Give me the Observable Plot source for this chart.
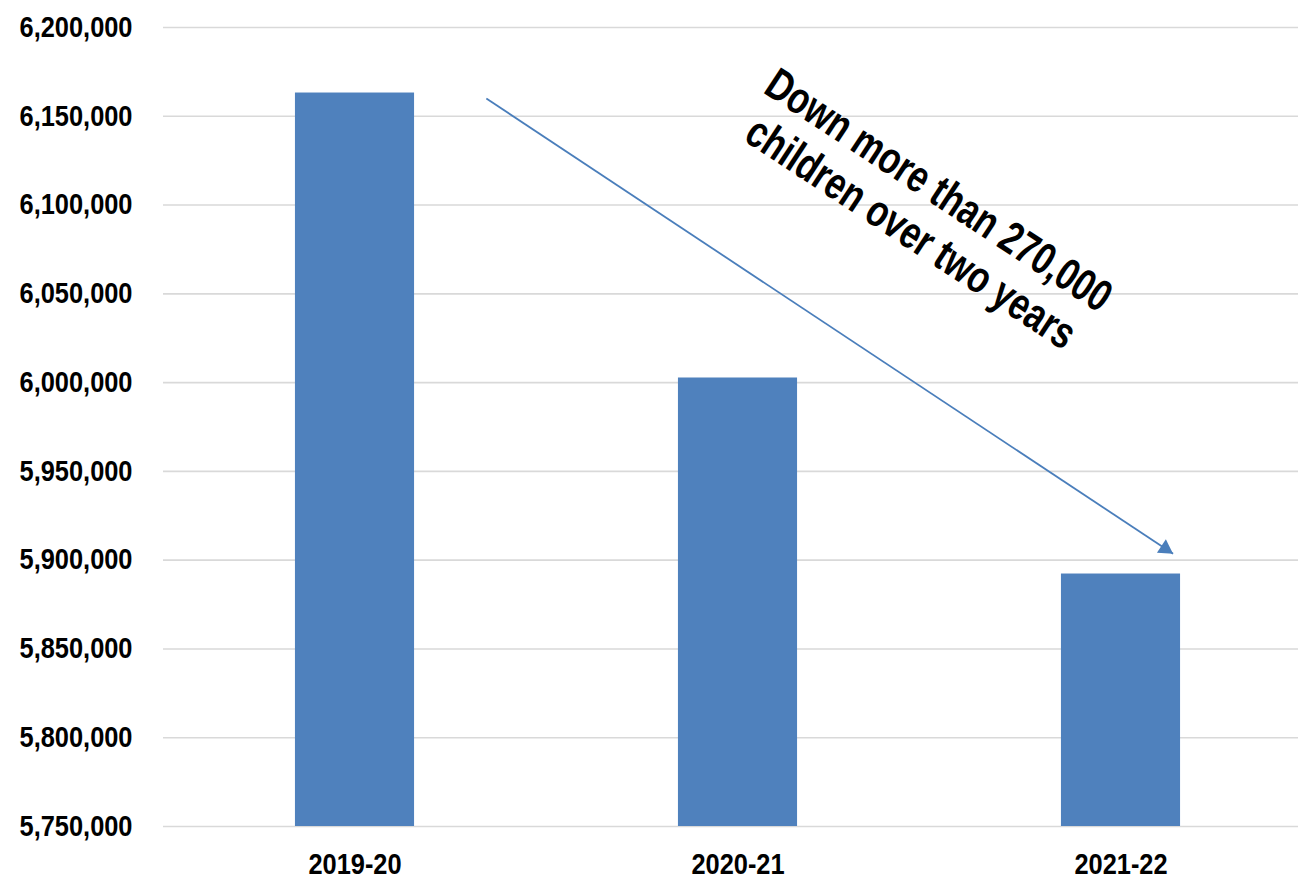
<!DOCTYPE html>
<html>
<head>
<meta charset="utf-8">
<script src="https://cdn.jsdelivr.net/npm/d3@7"></script>
<script src="https://cdn.jsdelivr.net/npm/@observablehq/plot@0.6"></script>
<style>
  html, body { margin: 0; padding: 0; background: #ffffff; overflow: hidden; }
  #chart svg { display: block; }
</style>
</head>
<body>
<div id="chart"></div>
<script>
// ---- data ----
const categories = ["2019-20", "2020-21", "2021-22"];
const enrollment = [6163100, 6002600, 5892200];
const yTicks = [5750000, 5800000, 5850000, 5900000, 5950000, 6000000, 6050000, 6100000, 6150000, 6200000];
const xTicks = [0, 1, 2];
// annotation (data coordinates: category index, value)
const arrowStart = [0.343, 6160000];
const arrowEnd = [2.136, 5903600];
const noteLines = ["Down more than 270,000", "children over two years"];
const noteAnchor = [1.49, 6097000];

const bars = categories.map((c, i) => ({i, category: c, value: enrollment[i]}));
const arrow = [{x1: arrowStart[0], y1: arrowStart[1], x2: arrowEnd[0], y2: arrowEnd[1]}];
const note = [{x: noteAnchor[0], y: noteAnchor[1], text: noteLines.join("\n")}];

const baseline = yTicks[0];
const blue = "#4f81bd";
const half = 0.1555;

const chart = Plot.plot({
  width: 1298,
  height: 880,
  marginLeft: 163,
  marginRight: 0,
  marginTop: 27,
  marginBottom: 54,
  style: {
    fontFamily: "'Liberation Sans', Arial, sans-serif",
    fontWeight: "bold",
    fontSize: "29px",
    color: "#000",
    background: "#fff"
  },
  x: {type: "linear", domain: [-0.5, 2.5], range: [163, 1312]},
  y: {domain: [yTicks[0], yTicks[yTicks.length - 1]]},
  marks: [
    Plot.gridY(yTicks, {stroke: "#d9d9d9", strokeOpacity: 1, strokeWidth: 1.6}),
    Plot.axisY(yTicks, {tickSize: 0, tickPadding: 31, tickFormat: d3.format(","), label: null, fontSize: 29, fontWeight: "bold", fill: "#000"}),
    Plot.axisX(xTicks, {tickSize: 0, tickPadding: 27, tickFormat: i => categories[i], label: null, fontSize: 29, fontWeight: "bold", fill: "#000"}),
    Plot.rect(bars, {x1: d => d.i - half, x2: d => d.i + half, y1: baseline, y2: "value", fill: blue}),
    Plot.link(arrow, {x1: "x1", y1: "y1", x2: "x2", y2: "y2", stroke: "#4a7ebb", strokeWidth: 1.8}),
    Plot.dot(arrow, {x: "x2", y: "y2", symbol: "triangle", r: 6, fill: "#4a7ebb", stroke: "none", rotate: 123.5, dx: -7.8, dy: -5.1}),
    Plot.text(note, {x: "x", y: "y", text: "text", rotate: 33.3, fontSize: 45, fontWeight: "bold", fill: "#000", lineHeight: 1.13, textAnchor: "middle", lineAnchor: "middle"})
  ]
});
document.getElementById("chart").append(chart);

// condensed glyph look (narrow bold face) via horizontal scaling of text
function condense(selector, s) {
  chart.querySelectorAll(selector).forEach(t => {
    const tr = t.getAttribute("transform");
    if (tr && tr.includes("translate")) {
      t.setAttribute("transform", tr + ` scale(${s},1)`);
    } else {
      const x = +(t.getAttribute("x") || 0), y = +(t.getAttribute("y") || 0);
      t.setAttribute("transform", `translate(${x},${y}) scale(${s},1) translate(${-x},${-y})` + (tr ? " " + tr : ""));
    }
  });
}
condense('g[aria-label="y-axis tick label"] text', 0.876);
condense('g[aria-label="x-axis tick label"] text', 0.876);
condense('g[aria-label="text"] text', 0.765);
</script>
</body>
</html>
